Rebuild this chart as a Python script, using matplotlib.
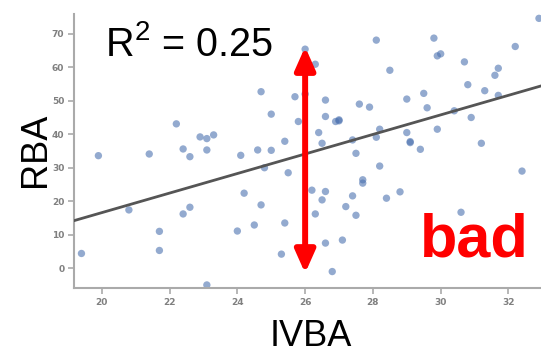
import matplotlib
matplotlib.use("Agg")
import matplotlib.pyplot as plt
import numpy as np

plt.rcParams["mathtext.fontset"] = "custom"
plt.rcParams["mathtext.rm"] = "Liberation Sans"
plt.rcParams["mathtext.it"] = "Liberation Sans:italic"

# ---- data ----
ivba = [19.4, 19.9, 20.8, 21.4, 21.7, 21.7, 22.2, 22.4, 22.4, 22.6,
        22.6, 22.9, 23.1, 23.3, 23.1, 23.1, 24.0, 24.1, 24.2, 24.5,
        24.6, 24.7, 24.7, 24.8, 25.0, 25.0, 25.3, 25.4, 25.4, 25.5,
        25.7, 25.8, 26.0, 26.0, 26.2, 26.3, 26.3, 26.4, 26.5, 26.5,
        26.6, 26.6, 26.6, 26.6, 26.8, 26.9, 27.0, 27.0, 27.1, 27.2,
        27.4, 27.4, 27.5, 27.5, 27.6, 27.7, 27.7, 27.9, 28.1, 28.1,
        28.2, 28.2, 28.4, 28.5, 28.8, 29.0, 29.0, 29.1, 29.1, 29.4,
        29.5, 29.6, 29.8, 29.9, 30.0, 29.9, 30.4, 30.6, 30.7, 30.8,
        30.9, 31.2, 31.3, 31.6, 31.7, 31.7, 32.2, 32.4, 32.9]
rba = [4.4, 33.6, 17.4, 34.1, 11.0, 5.3, 43.1, 35.6, 16.2, 33.3,
       18.2, 39.2, 38.7, 39.8, 35.3, -5.0, 11.1, 33.7, 22.4, 12.9,
       35.3, 52.7, 18.9, 30.0, 46.0, 35.2, 4.2, 37.9, 13.5, 28.5,
       51.2, 43.8, 52.0, 65.4, 23.3, 60.9, 16.2, 40.5, 37.3, 20.4,
       50.2, 45.3, 22.9, 7.5, -1.0, 43.8, 44.3, 44.0, 8.4, 18.4,
       38.3, 21.6, 34.3, 15.8, 49.0, 26.4, 25.4, 48.1, 68.1, 39.1,
       41.5, 30.5, 20.9, 59.1, 22.8, 50.5, 40.5, 37.5, 37.8, 35.5,
       52.2, 47.9, 68.7, 63.4, 64.0, 41.5, 47.0, 16.7, 61.6, 54.8,
       45.0, 37.3, 53.0, 57.6, 59.7, 51.6, 66.2, 29.0, 74.6]

fit_slope = 2.919
fit_intercept = -41.79

x_ticks = [20, 22, 24, 26, 28, 30, 32]
y_ticks = [0, 10, 20, 30, 40, 50, 60, 70]

r2_text = r"R$^2$ = 0.25"
label_text = "bad"
arrow_x = 26.0
arrow_top = 66.1
arrow_bottom = -1.5

# ---- figure ----
fig = plt.figure(figsize=(5.41, 3.55), dpi=100)
ax = fig.add_axes([74 / 541, 66.7 / 355, 1 - 74 / 541, (288.3 - 14) / 355])
xlim = (19.18, 32.96)
ax.set_xlim(*xlim)
ax.set_ylim(-6, 75.9)

ax.scatter(ivba, rba, s=28, color="#4C72B0", alpha=0.6, edgecolors="none", zorder=2)

xs = np.array(xlim)
ax.plot(xs, fit_intercept + fit_slope * xs, color="#555555", lw=2.0, zorder=3)

gray = "#aaaaaa"
for side in ["top", "right"]:
    ax.spines[side].set_visible(False)
for side in ["left", "bottom"]:
    ax.spines[side].set_color(gray)
    ax.spines[side].set_linewidth(1.5)
ax.set_xticks(x_ticks)
ax.set_yticks(y_ticks)
ax.tick_params(colors=gray, length=4, width=1.2, labelsize=6.5, labelcolor="#808080", pad=3)
for lab in ax.get_xticklabels() + ax.get_yticklabels():
    lab.set_fontweight("bold")

# arrow
ax.annotate("", xy=(arrow_x, arrow_top), xytext=(arrow_x, arrow_bottom),
            arrowprops=dict(arrowstyle="<|-|>,head_length=1.35,head_width=0.6",
                            color="#ff0000", lw=4.3, shrinkA=0, shrinkB=0),
            zorder=5)

fig.text(105 / 541, 1 - 45 / 355, r2_text, fontsize=28.5, family="Liberation Sans",
         color="black", ha="left", va="center")
fig.text(474 / 541, 1 - 241 / 355, label_text, fontsize=44, family="Liberation Sans",
         fontweight="bold", color="#ff0000", ha="center", va="center")
fig.text(35 / 541, 1 - 150 / 355, "RBA", fontsize=26, family="Liberation Sans",
         rotation=90, ha="center", va="center")
fig.text(311 / 541, 1 - 337 / 355, "IVBA", fontsize=26, family="Liberation Sans",
         ha="center", va="center")

fig.savefig("out.png", dpi=100)
